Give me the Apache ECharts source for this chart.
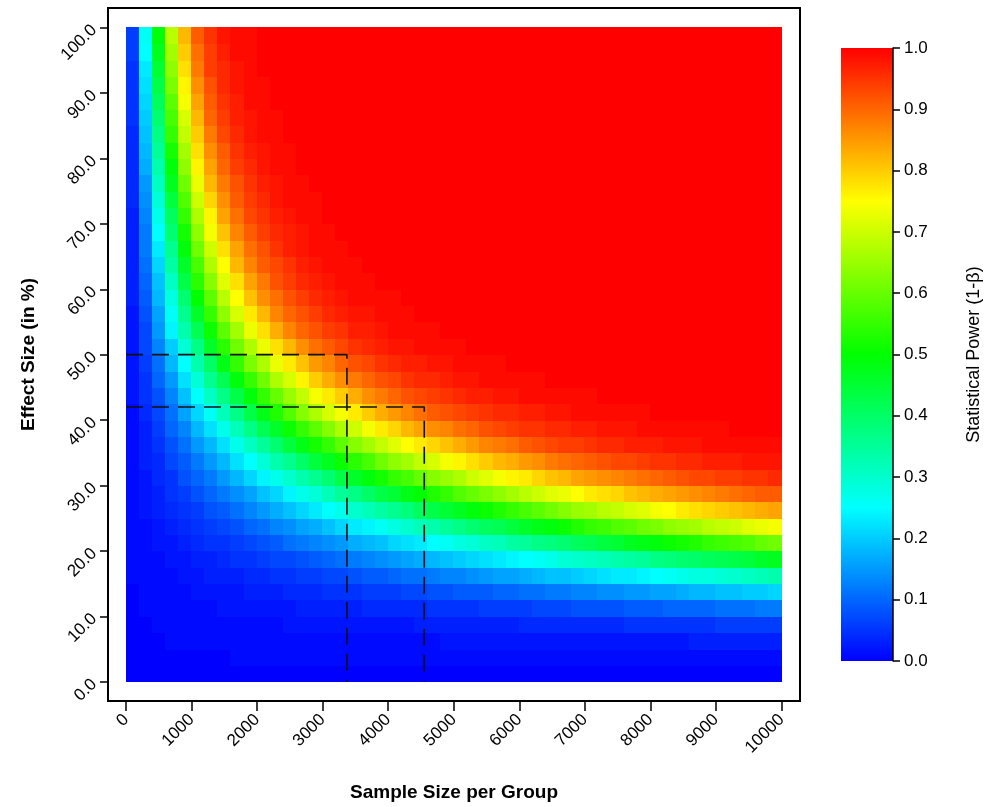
<!DOCTYPE html>
<html>
<head>
<meta charset="utf-8">
<title>Statistical power</title>
<script src="https://cdn.jsdelivr.net/npm/echarts@6/dist/echarts.min.js"></script>
<style>
html, body { margin: 0; padding: 0; background: #fff; }
#chart { width: 988px; height: 807px; }
</style>
</head>
<body>
<div id="chart"></div>
<script>
// cell centres
var sampleSizes = [100,300,500,700,900,1100,1300,1500,1700,1900,
    2100,2300,2500,2700,2900,3100,3300,3500,3700,3900,
    4100,4300,4500,4700,4900,5100,5300,5500,5700,5900,
    6100,6300,6500,6700,6900,7100,7300,7500,7700,7900,
    8100,8300,8500,8700,8900,9100,9300,9500,9700,9900];
var effectSizes = [1.25,3.75,6.25,8.75,11.25,13.75,16.25,18.75,21.25,23.75,
    26.25,28.75,31.25,33.75,36.25,38.75,41.25,43.75,46.25,48.75,
    51.25,53.75,56.25,58.75,61.25,63.75,66.25,68.75,71.25,73.75,
    76.25,78.75,81.25,83.75,86.25,88.75,91.25,93.75,96.25,98.75];

// power in %, one row per effect size (bottom row first)
var powerRows = [
    [0,0,0,0,0,0,0,0,0,0, 0,0,0,0,0,0,0,0,0,0, 0,0,0,0,0,0,0,0,0,0, 0,0,0,0,0,0,0,0,0,0, 0,0,0,0,0,0,0,0,0,0],
    [0,0,0,0,0,0,0,0,1,1, 1,1,1,1,1,1,1,1,1,1, 1,1,1,1,1,1,1,1,1,1, 1,1,1,1,1,1,1,1,1,1, 1,1,1,1,1,1,1,1,1,1],
    [0,0,0,1,1,1,1,1,1,1, 1,1,1,1,1,1,1,1,1,1, 1,1,1,1,2,2,2,2,2,2, 2,2,2,2,2,2,2,2,2,2, 2,2,2,3,3,3,3,3,3,3],
    [0,0,1,1,1,1,1,1,1,1, 1,1,2,2,2,2,2,2,2,2, 2,2,3,3,3,3,3,3,3,3, 4,4,4,4,4,4,4,4,5,5, 5,5,5,5,5,6,6,6,6,6],
    [0,1,1,1,1,1,1,2,2,2, 2,2,2,3,3,3,3,3,4,4, 4,4,4,5,5,5,5,6,6,6, 6,7,7,7,8,8,8,8,9,9, 9,10,10,10,10,11,11,11,12,12],
    [0,1,1,1,1,2,2,2,2,3, 3,3,4,4,4,5,5,5,6,6, 6,7,7,8,8,9,9,9,10,10, 11,11,12,12,13,13,14,14,15,15, 16,16,17,18,18,19,19,20,20,21],
    [1,1,1,1,2,2,3,3,3,4, 4,5,5,6,6,7,7,8,9,9, 10,11,11,12,13,13,14,15,16,16, 17,18,19,19,20,21,22,23,23,24, 25,26,27,28,28,29,30,31,32,33],
    [1,1,1,2,2,3,3,4,5,5, 6,7,7,8,9,10,11,12,13,14, 15,16,17,18,19,20,21,22,23,24, 25,26,27,29,30,31,32,33,34,35, 37,38,39,40,41,42,43,44,46,47],
    [1,1,2,2,3,4,5,5,6,7, 8,9,11,12,13,14,15,17,18,19, 21,22,23,25,26,28,29,31,32,34, 35,37,38,39,41,42,44,45,47,48, 49,51,52,53,55,56,57,58,60,61],
    [1,1,2,3,4,5,6,7,8,10, 11,13,14,16,17,19,21,23,24,26, 28,30,32,33,35,37,39,41,42,44, 46,48,49,51,53,55,56,58,59,61, 62,64,65,66,68,69,70,72,73,74],
    [1,2,3,4,5,6,8,9,11,13, 15,17,19,21,23,25,27,30,32,34, 36,38,41,43,45,47,49,51,53,55, 57,59,61,63,65,66,68,69,71,72, 74,75,77,78,79,80,81,82,83,84],
    [1,2,3,5,6,8,10,12,14,16, 19,21,24,27,29,32,35,37,40,43, 45,48,50,53,55,58,60,62,64,66, 68,70,72,73,75,77,78,79,81,82, 83,84,85,86,87,88,89,90,91,91],
    [1,2,4,5,8,10,12,15,18,21, 24,27,30,33,36,39,43,46,49,52, 55,57,60,63,65,67,70,72,74,76, 77,79,81,82,84,85,86,87,88,89, 90,91,92,93,93,94,94,95,95,96],
    [1,3,4,7,9,12,15,18,22,25, 29,33,36,40,44,47,51,54,57,61, 64,66,69,71,74,76,78,80,82,83, 85,86,88,89,90,91,92,93,93,94, 95,95,96,96,97,97,97,98,98,98],
    [1,3,5,8,11,15,18,22,27,31, 35,39,44,48,52,55,59,63,66,69, 72,75,77,79,81,83,85,87,88,89, 91,92,93,94,94,95,96,96,97,97, 97,98,98,98,99,99,99,99,99,99],
    [1,3,6,10,13,18,22,27,32,37, 42,46,51,55,59,63,67,70,74,77, 79,82,84,86,87,89,90,92,93,94, 95,95,96,96,97,97,98,98,98,99, 99,99,99,99,99,99,100,100,100,100],
    [1,4,7,11,16,21,26,32,37,43, 48,53,58,63,67,71,74,77,80,83, 85,87,89,91,92,93,94,95,96,96, 97,97,98,98,99,99,99,99,99,99, 100,100,100,100,100,100,100,100,100,100],
    [2,5,8,13,19,25,31,37,43,49, 55,60,65,69,74,77,80,83,86,88, 90,92,93,94,95,96,97,97,98,98, 99,99,99,99,99,99,100,100,100,100, 100,100,100,100,100,100,100,100,100,100],
    [2,5,10,15,22,29,36,42,49,55, 61,67,71,76,80,83,86,88,90,92, 93,95,96,96,97,98,98,99,99,99, 99,99,100,100,100,100,100,100,100,100, 100,100,100,100,100,100,100,100,100,100],
    [2,6,11,18,25,33,40,48,55,62, 67,73,77,81,85,87,90,92,93,95, 96,97,97,98,98,99,99,99,99,100, 100,100,100,100,100,100,100,100,100,100, 100,100,100,100,100,100,100,100,100,100],
    [2,7,13,20,29,37,46,54,61,67, 73,78,82,86,89,91,93,95,96,97, 98,98,99,99,99,99,100,100,100,100, 100,100,100,100,100,100,100,100,100,100, 100,100,100,100,100,100,100,100,100,100],
    [2,7,15,24,33,42,51,59,66,73, 78,83,87,90,92,94,95,97,97,98, 99,99,99,99,100,100,100,100,100,100, 100,100,100,100,100,100,100,100,100,100, 100,100,100,100,100,100,100,100,100,100],
    [2,8,16,26,36,46,55,64,71,77, 82,87,90,92,94,96,97,98,98,99, 99,99,100,100,100,100,100,100,100,100, 100,100,100,100,100,100,100,100,100,100, 100,100,100,100,100,100,100,100,100,100],
    [3,9,18,28,39,50,59,68,75,81, 86,89,92,94,96,97,98,99,99,99, 99,100,100,100,100,100,100,100,100,100, 100,100,100,100,100,100,100,100,100,100, 100,100,100,100,100,100,100,100,100,100],
    [3,10,19,31,43,54,63,72,78,84, 88,92,94,96,97,98,99,99,99,100, 100,100,100,100,100,100,100,100,100,100, 100,100,100,100,100,100,100,100,100,100, 100,100,100,100,100,100,100,100,100,100],
    [3,11,21,34,46,57,67,75,82,87, 91,93,95,97,98,99,99,99,100,100, 100,100,100,100,100,100,100,100,100,100, 100,100,100,100,100,100,100,100,100,100, 100,100,100,100,100,100,100,100,100,100],
    [3,12,23,36,49,61,70,78,84,89, 92,95,97,98,99,99,99,100,100,100, 100,100,100,100,100,100,100,100,100,100, 100,100,100,100,100,100,100,100,100,100, 100,100,100,100,100,100,100,100,100,100],
    [3,12,25,39,52,64,74,81,87,91, 94,96,97,98,99,99,100,100,100,100, 100,100,100,100,100,100,100,100,100,100, 100,100,100,100,100,100,100,100,100,100, 100,100,100,100,100,100,100,100,100,100],
    [3,13,27,41,55,67,76,84,89,93, 95,97,98,99,99,100,100,100,100,100, 100,100,100,100,100,100,100,100,100,100, 100,100,100,100,100,100,100,100,100,100, 100,100,100,100,100,100,100,100,100,100],
    [4,14,29,44,58,70,79,86,91,94, 96,98,99,99,99,100,100,100,100,100, 100,100,100,100,100,100,100,100,100,100, 100,100,100,100,100,100,100,100,100,100, 100,100,100,100,100,100,100,100,100,100],
    [4,15,31,47,61,73,82,88,92,95, 97,98,99,99,100,100,100,100,100,100, 100,100,100,100,100,100,100,100,100,100, 100,100,100,100,100,100,100,100,100,100, 100,100,100,100,100,100,100,100,100,100],
    [4,17,33,49,64,76,84,90,94,96, 98,99,99,100,100,100,100,100,100,100, 100,100,100,100,100,100,100,100,100,100, 100,100,100,100,100,100,100,100,100,100, 100,100,100,100,100,100,100,100,100,100],
    [4,18,35,52,66,78,86,91,95,97, 98,99,99,100,100,100,100,100,100,100, 100,100,100,100,100,100,100,100,100,100, 100,100,100,100,100,100,100,100,100,100, 100,100,100,100,100,100,100,100,100,100],
    [4,19,37,55,69,80,88,93,96,98, 99,99,100,100,100,100,100,100,100,100, 100,100,100,100,100,100,100,100,100,100, 100,100,100,100,100,100,100,100,100,100, 100,100,100,100,100,100,100,100,100,100],
    [5,20,39,57,71,82,90,94,97,98, 99,99,100,100,100,100,100,100,100,100, 100,100,100,100,100,100,100,100,100,100, 100,100,100,100,100,100,100,100,100,100, 100,100,100,100,100,100,100,100,100,100],
    [5,21,41,59,74,84,91,95,97,99, 99,100,100,100,100,100,100,100,100,100, 100,100,100,100,100,100,100,100,100,100, 100,100,100,100,100,100,100,100,100,100, 100,100,100,100,100,100,100,100,100,100],
    [5,22,43,62,76,86,92,96,98,99, 99,100,100,100,100,100,100,100,100,100, 100,100,100,100,100,100,100,100,100,100, 100,100,100,100,100,100,100,100,100,100, 100,100,100,100,100,100,100,100,100,100],
    [5,23,45,64,78,88,94,96,98,99, 100,100,100,100,100,100,100,100,100,100, 100,100,100,100,100,100,100,100,100,100, 100,100,100,100,100,100,100,100,100,100, 100,100,100,100,100,100,100,100,100,100],
    [6,25,47,66,80,89,94,97,99,99, 100,100,100,100,100,100,100,100,100,100, 100,100,100,100,100,100,100,100,100,100, 100,100,100,100,100,100,100,100,100,100, 100,100,100,100,100,100,100,100,100,100],
    [6,26,49,68,82,91,95,98,99,99, 100,100,100,100,100,100,100,100,100,100, 100,100,100,100,100,100,100,100,100,100, 100,100,100,100,100,100,100,100,100,100, 100,100,100,100,100,100,100,100,100,100]
];

var xTicks = [0,1000,2000,3000,4000,5000,6000,7000,8000,9000,10000];
var yTicks = [0,10,20,30,40,50,60,70,80,90,100];
var powerRange = [0, 1];

// dashed guides: [sample size, effect size]
var guide1 = [[0,50],[3370,50],[3370,0]];
var guide2 = [[0,42],[4550,42],[4550,0]];

var rainbow = ['#0000ff', '#00ffff', '#00ff00', '#ffff00', '#ff0000'];
var font = "'Liberation Sans', Arial, sans-serif";

var cells = [];
for (var r = 0; r < effectSizes.length; r++) {
    for (var j = 0; j < sampleSizes.length; j++) {
        cells.push([sampleSizes[j], effectSizes[r], powerRows[r][j]]);
    }
}
var halfW = (sampleSizes[1] - sampleSizes[0]) / 2;
var halfH = (effectSizes[1] - effectSizes[0]) / 2;

function renderCell(params, api) {
    var a = api.coord([api.value(0) - halfW, api.value(1) + halfH]);
    var b = api.coord([api.value(0) + halfW, api.value(1) - halfH]);
    var x0 = Math.floor(a[0]), y0 = Math.floor(a[1]);
    return {
        type: 'rect',
        shape: {x: x0, y: y0, width: Math.ceil(b[0]) - x0, height: Math.ceil(b[1]) - y0},
        style: {fill: api.visual('color')}
    };
}

// colour bar drawn as one gradient rect on the second grid
function renderBar(params, api) {
    var a = api.coord([0, api.value(1)]);
    var b = api.coord([1, api.value(0)]);
    var stops = rainbow.map(function (c, i) {
        return {offset: i / (rainbow.length - 1), color: c};
    });
    return {
        type: 'rect',
        shape: {x: a[0], y: a[1], width: b[0] - a[0], height: b[1] - a[1]},
        style: {fill: new echarts.graphic.LinearGradient(0, 1, 0, 0, stops)}
    };
}

function guideSeries(data) {
    return {
        type: 'line',
        data: data,
        symbol: 'none',
        silent: true,
        z: 5,
        lineStyle: {color: '#111', width: 1.6, type: [17, 9]}
    };
}

var option = {
    animation: false,
    backgroundColor: '#fff',
    grid: [
        {left: 108, top: 8, width: 692, height: 694, show: true, borderColor: '#000', borderWidth: 2, backgroundColor: 'transparent'},
        {left: 841, top: 48, width: 52, height: 613}
    ],
    visualMap: {
        show: false,
        type: 'continuous',
        seriesIndex: 0,
        dimension: 2,
        min: 0,
        max: 100,
        inRange: {color: rainbow}
    },
    xAxis: [
        {
            type: 'value',
            min: -275,
            max: 10282,
            splitLine: {show: false},
            axisLine: {show: true, onZero: false, lineStyle: {color: '#000', width: 2}},
            axisTick: {show: true, customValues: xTicks, length: 10, lineStyle: {color: '#000', width: 1.5}},
            axisLabel: {
                customValues: xTicks, rotate: 45, margin: 16, fontSize: 17, color: '#000', fontFamily: font,
                formatter: function (v) { return String(v); }
            },
            name: 'Sample Size per Group',
            nameLocation: 'middle',
            nameGap: 82,
            nameTextStyle: {fontSize: 19, fontWeight: 'bold', color: '#000', fontFamily: font}
        },
        {
            gridIndex: 1, type: 'value', show: false, min: 0, max: 1,
            axisLine: {show: false}, axisTick: {show: false}, axisLabel: {show: false}, splitLine: {show: false}
        }
    ],
    yAxis: [
        {
            type: 'value',
            min: -2.95,
            max: 103,
            splitLine: {show: false},
            axisLine: {show: true, onZero: false, lineStyle: {color: '#000', width: 2}},
            axisTick: {show: true, customValues: yTicks, length: 8, lineStyle: {color: '#000', width: 1.5}},
            axisLabel: {
                customValues: yTicks, rotate: 45, margin: 14, fontSize: 17, color: '#000', fontFamily: font,
                formatter: function (v) { return v.toFixed(1); }
            },
            name: 'Effect Size (in %)',
            nameLocation: 'middle',
            nameGap: 70,
            nameTextStyle: {fontSize: 19, fontWeight: 'bold', color: '#000', fontFamily: font}
        },
        {
            gridIndex: 1,
            type: 'value',
            position: 'right',
            z: 4,
            min: 0,
            max: 1,
            interval: 0.1,
            splitLine: {show: false},
            axisLine: {show: true, onZero: false, lineStyle: {color: '#000', width: 1.5}},
            axisTick: {show: true, length: 7, lineStyle: {color: '#000', width: 1.5}},
            axisLabel: {
                margin: 11, fontSize: 17, color: '#000', fontFamily: font,
                formatter: function (v) { return v.toFixed(1); }
            },
            name: 'Statistical Power (1-β)',
            nameLocation: 'middle',
            nameRotate: 90,
            nameGap: 72,
            nameTextStyle: {fontSize: 18, color: '#000', fontFamily: font}
        }
    ],
    series: [
        {
            type: 'custom',
            data: cells,
            encode: {x: 0, y: 1},
            renderItem: renderCell,
            silent: true
        },
        guideSeries(guide1),
        guideSeries(guide2),
        {
            type: 'custom',
            xAxisIndex: 1,
            yAxisIndex: 1,
            z: 1,
            data: [powerRange],
            renderItem: renderBar,
            silent: true
        }
    ]
};

var myChart = echarts.init(document.getElementById('chart'));
myChart.setOption(option);
</script>
</body>
</html>
